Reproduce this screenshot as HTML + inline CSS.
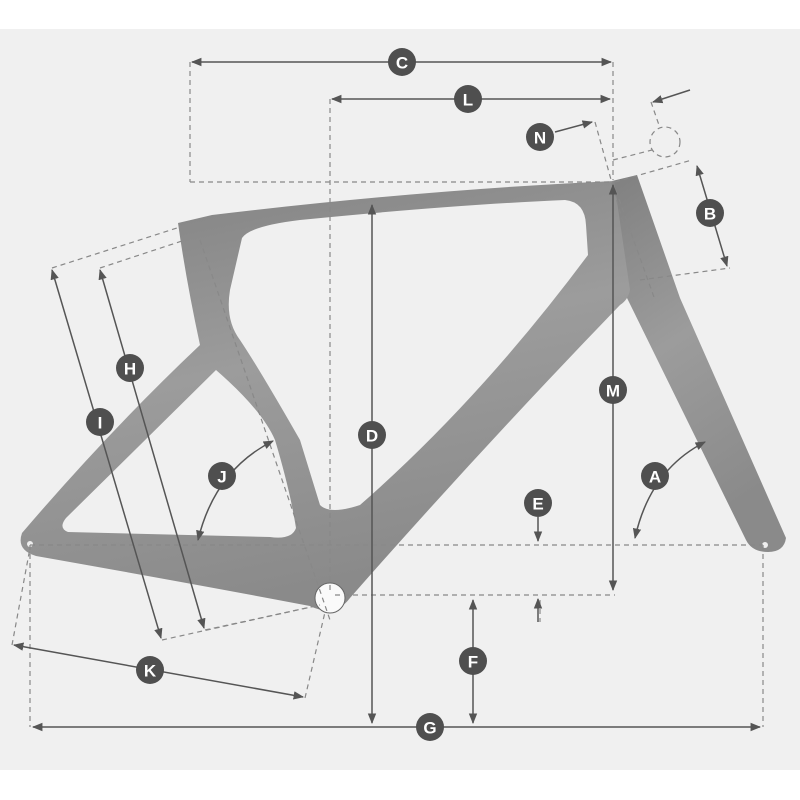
<!DOCTYPE html>
<html><head><meta charset="utf-8"><style>
html,body{margin:0;padding:0;background:#fff;}
svg{display:block;}
text{font-family:"Liberation Sans",sans-serif;font-weight:bold;font-size:17px;fill:#fff;text-anchor:middle;dominant-baseline:central;}
</style></head><body>
<svg width="800" height="800" viewBox="0 0 800 800" xmlns="http://www.w3.org/2000/svg">
<defs>
<linearGradient id="fg" x1="0" y1="0" x2="0.3" y2="1">
<stop offset="0" stop-color="#808080"/><stop offset="0.5" stop-color="#9c9c9c"/><stop offset="1" stop-color="#8a8a8a"/>
</linearGradient>
<marker id="ar" viewBox="0 0 10 10" refX="9" refY="5" markerWidth="7" markerHeight="7" orient="auto-start-reverse"><path d="M0,1 L10,5 L0,9 Z" fill="#555"/></marker>
</defs>
<rect x="0" y="29" width="800" height="741" fill="#f0f0f0"/>
<path d="M612,181 L637,175 L680,298 L786,538 Q784,552 768,552 Q752,552 746,540 L627,298 Z" fill="url(#fg)"/>
<path fill-rule="evenodd" fill="url(#fg)" d="M178,223 L212,215 Q420,190 614,181 L630,290 Q628,300 620,305 Q480,450 350,598 Q335,618 310,606 Q200,585 36,556 Q16,550 22,533 Q110,430 200,345 Q186,280 178,223 Z
M242,238 Q250,226 300,220 Q450,205 565,200 Q585,202 586,225 L588,255 Q480,400 360,505 Q330,515 320,505 L300,440 Q260,370 240,340 Q225,320 230,290 Z
M216,370 Q262,410 275,440 Q290,490 296,528 Q292,540 270,537 L68,532 Q58,528 66,518 Z"/>
<circle cx="330" cy="598" r="15" fill="#fafafa" stroke="#666" stroke-width="1"/>
<circle cx="30" cy="544" r="3" fill="#eee"/><circle cx="765" cy="545" r="3" fill="#eee"/>
<g stroke="#888" stroke-width="1.2" stroke-dasharray="5,4" fill="none">
<line x1="190" y1="62" x2="190" y2="182"/><line x1="613" y1="62" x2="613" y2="180"/>
<line x1="330" y1="99" x2="330" y2="590"/>
<line x1="190" y1="182" x2="615" y2="182"/>
<line x1="595" y1="122" x2="625" y2="230"/>
<line x1="613" y1="160" x2="652" y2="150"/>
<line x1="651" y1="102" x2="660" y2="128"/>
<circle cx="665" cy="142" r="15"/>
<line x1="615" y1="182" x2="692" y2="160"/>
<line x1="640" y1="280" x2="730" y2="268"/>
<line x1="613" y1="182" x2="655" y2="300"/>
<line x1="30" y1="545" x2="763" y2="545"/>
<line x1="335" y1="595" x2="615" y2="595"/>
<line x1="30" y1="545" x2="30" y2="727"/><line x1="763" y1="545" x2="763" y2="727"/>
<line x1="52" y1="268" x2="180" y2="227"/><line x1="100" y1="268" x2="185" y2="240"/>
<line x1="162" y1="640" x2="320" y2="605"/><line x1="205" y1="630" x2="320" y2="605"/>
<line x1="12" y1="645" x2="30" y2="548"/><line x1="305" y1="698" x2="325" y2="612"/>
<line x1="200" y1="240" x2="330" y2="620"/>
<line x1="540" y1="600" x2="540" y2="622"/>
</g>
<g stroke="#555" stroke-width="1.5" fill="none" marker-start="url(#ar)" marker-end="url(#ar)">
<line x1="192" y1="62" x2="611" y2="62"/>
<line x1="332" y1="99" x2="610" y2="99"/>
<line x1="372" y1="205" x2="372" y2="723"/>
<line x1="613" y1="185" x2="613" y2="590"/>
<line x1="473" y1="600" x2="473" y2="723"/>
<line x1="33" y1="727" x2="760" y2="727"/>
<line x1="697" y1="166" x2="727" y2="266"/>
<line x1="52" y1="270" x2="161" y2="638"/>
<line x1="100" y1="270" x2="204" y2="628"/>
<line x1="14" y1="645" x2="303" y2="697"/>
</g>
<g stroke="#555" stroke-width="1.5" fill="none" marker-end="url(#ar)">
<line x1="555" y1="132" x2="592" y2="122"/>
<line x1="690" y1="90" x2="653" y2="102"/>
<line x1="538" y1="517" x2="538" y2="541"/>
<line x1="538" y1="622" x2="538" y2="599"/>
<path d="M635,538 Q650,470 705,442" marker-start="url(#ar)"/>
<path d="M198,540 Q215,470 273,441" marker-start="url(#ar)"/>
</g>
<g fill="#4f4f4f">
<circle cx="402" cy="62" r="14"/><circle cx="468" cy="99" r="14"/><circle cx="540" cy="137" r="14"/>
<circle cx="710" cy="213" r="14"/><circle cx="613" cy="390" r="14"/><circle cx="372" cy="435" r="14"/>
<circle cx="538" cy="503" r="14"/><circle cx="473" cy="661" r="14"/><circle cx="430" cy="727" r="14"/>
<circle cx="655" cy="476" r="14"/><circle cx="222" cy="476" r="14"/><circle cx="130" cy="368" r="14"/>
<circle cx="100" cy="422" r="14"/><circle cx="150" cy="670" r="14"/>
</g>
<text x="402" y="63">C</text><text x="468" y="100">L</text><text x="540" y="138">N</text>
<text x="710" y="214">B</text><text x="613" y="391">M</text><text x="372" y="436">D</text>
<text x="538" y="504">E</text><text x="473" y="662">F</text><text x="430" y="728">G</text>
<text x="655" y="477">A</text><text x="222" y="477">J</text><text x="130" y="369">H</text>
<text x="100" y="423">I</text><text x="150" y="671">K</text>
</svg>
</body></html>
